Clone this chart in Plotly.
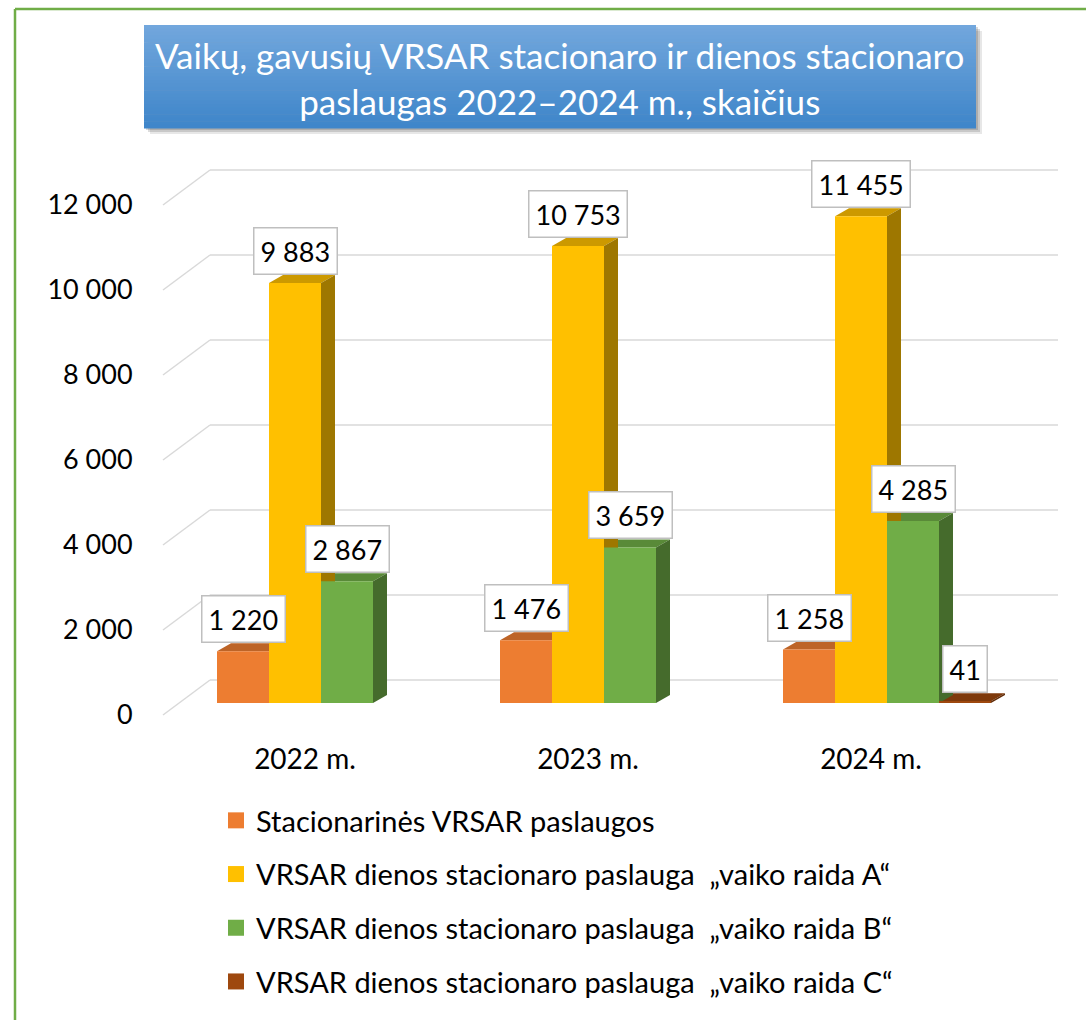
import plotly.graph_objects as go

# ---------------- data ----------------
categories = ["2022 m.", "2023 m.", "2024 m."]
series_names = [
    "Stacionarinės VRSAR paslaugos",
    "VRSAR dienos stacionaro paslauga\u00a0 „vaiko raida A“",
    "VRSAR dienos stacionaro paslauga\u00a0 „vaiko raida B“",
    "VRSAR dienos stacionaro paslauga\u00a0 „vaiko raida C“",
]
stacionarines = [1220, 1476, 1258]
raida_a = [9883, 10753, 11455]
raida_b = [2867, 3659, 4285]
raida_c = [None, None, 41]
y_tick_values = [0, 2000, 4000, 6000, 8000, 10000, 12000]
y_tick_labels = ["0", "2 000", "4 000", "6 000", "8 000", "10 000", "12 000"]
title_text = "Vaikų, gavusių VRSAR stacionaro ir dienos stacionaro<br>paslaugas 2022–2024 m., skaičius"

series_values = [stacionarines, raida_a, raida_b, raida_c]
front_colors = ["#ED7D31", "#FFC000", "#70AD47", "#9E480E"]

# ---------------- geometry / style ----------------
W, H = 1086, 1020
ML, MR, MT, MB = 163, 28, 150, 290
PW, PH = W - ML - MR, H - MT - MB
CAT_PX = 283.0
BAR_W = 52.0 / CAT_PX
K = 85.0 / 2000.0          # px per unit
ZERO_PX = 703.0
X_RANGE = [-(321 - ML) / CAT_PX, 2 + (ML + PW - 887) / CAT_PX]
Y_RANGE = [-(MT + PH - ZERO_PX) / K, (ZERO_PX - MT) / K]
DX = 14.0 / CAT_PX
DY = 8.0 / K
LABEL_OFF = 12.0 / K
BACK_OFF = 35.0 / K
FONT = "Lato, Carlito, Calibri, sans-serif"


def shade(hexcol, f):
    h = hexcol.lstrip("#")
    r, g, b = (int(h[i:i + 2], 16) for i in (0, 2, 4))
    return "rgb(%d,%d,%d)" % (r * f, g * f, b * f)


def xp(px):
    return (px - ML) / PW


def yp(py):
    return (MT + PH - py) / PH


def fmt(v):
    return f"{v:,}".replace(",", " ")


fig = go.Figure()

# ---- 3D faces (top faces first, then sides) on the base axes ----
tops, sides = [], []
for k, vals in enumerate(series_values):
    tx, ty, sx, sy = [], [], [], []
    for i, v in enumerate(vals):
        if v is None:
            continue
        xl = i + (k - 2) * BAR_W
        xr = xl + BAR_W
        tx += [xl, xl + DX, xr + DX, xr, xl, None]
        ty += [v, v + DY, v + DY, v, v, None]
        sx += [xr, xr + DX, xr + DX, xr, xr, None]
        sy += [0, DY, v + DY, v, 0, None]
    tops.append(go.Scatter(x=tx, y=ty, mode="lines", fill="toself",
                           fillcolor=shade(front_colors[k], 0.8),
                           line=dict(width=0), hoverinfo="skip", showlegend=False))
    sides.append(go.Scatter(x=sx, y=sy, mode="lines", fill="toself",
                            fillcolor=shade(front_colors[k], 0.62),
                            line=dict(width=0), hoverinfo="skip", showlegend=False))
for t in tops:
    fig.add_trace(t)
for s in sides:
    fig.add_trace(s)

# ---- front faces: real bars on overlaid axes ----
for k, vals in enumerate(series_values):
    fig.add_trace(go.Bar(
        x=list(range(len(categories))), y=vals, width=BAR_W,
        offset=(k - 2) * BAR_W, marker=dict(color=front_colors[k], line=dict(width=0)),
        name=series_names[k], showlegend=False, xaxis="x2", yaxis="y2",
    ))

# ---- legend entries ----
for k, name in enumerate(series_names):
    fig.add_trace(go.Scatter(
        x=[None], y=[None], mode="markers", name=name, legendgroup=f"g{k}",
        marker=dict(symbol="square", size=18, color=front_colors[k]),
    ))

# ---- data labels ----
annotations = []
for k, vals in enumerate(series_values):
    for i, v in enumerate(vals):
        if v is None:
            continue
        xc = i + (k - 2) * BAR_W + BAR_W / 2
        annotations.append(dict(
            x=xc, y=v + DY, xref="x2", yref="y2", text=fmt(v), showarrow=False,
            xanchor="center", yanchor="bottom", bgcolor="white",
            bordercolor="#BFBFBF", borderwidth=1.5, borderpad=6,
            font=dict(family=FONT, size=27, color="black"),
        ))

# ---- title ----
annotations.append(dict(
    x=xp(559), y=yp(78), xref="paper", yref="paper", text=title_text,
    showarrow=False, xanchor="center", yanchor="middle",
    font=dict(family=FONT, size=35, color="white"),
))

shapes = []
# outer green frame
shapes.append(dict(type="line", xref="paper", yref="paper", x0=xp(15), x1=xp(15),
                   y0=yp(9), y1=yp(H + 20), line=dict(color="#70AD47", width=2.5)))
shapes.append(dict(type="line", xref="paper", yref="paper", x0=xp(15), x1=xp(W + 20),
                   y0=yp(9), y1=yp(9), line=dict(color="#70AD47", width=2.5)))
# title box shadow
for off, op in [(6, 0.12), (4, 0.18), (2, 0.2)]:
    shapes.append(dict(type="rect", xref="paper", yref="paper", layer="above",
                       x0=xp(144 + off), x1=xp(976 + off), y0=yp(25 + off), y1=yp(128 + off),
                       fillcolor="rgba(60,60,60,%.2f)" % op, line=dict(width=0)))
# title box gradient
n_strips = 30
top_c, bot_c = (0x72, 0xA7, 0xDD), (0x3F, 0x86, 0xCA)
for s in range(n_strips):
    f = s / (n_strips - 1)
    c = tuple(int(top_c[j] + (bot_c[j] - top_c[j]) * f) for j in range(3))
    y0 = 25 + (128 - 25) * s / n_strips
    y1 = 25 + (128 - 25) * (s + 1) / n_strips
    shapes.append(dict(type="rect", xref="paper", yref="paper", layer="above",
                       x0=xp(144), x1=xp(976), y0=yp(y0), y1=yp(y1 + 0.6),
                       fillcolor="rgb(%d,%d,%d)" % c, line=dict(width=0)))
# 3D gridlines
for t in y_tick_values:
    shapes.append(dict(type="line", xref="paper", yref="y", layer="below",
                       x0=0, x1=xp(210), y0=t - LABEL_OFF, y1=t - LABEL_OFF + BACK_OFF,
                       line=dict(color="#D9D9D9", width=1.5)))
    shapes.append(dict(type="line", xref="paper", yref="y", layer="below",
                       x0=xp(210), x1=1, y0=t - LABEL_OFF + BACK_OFF, y1=t - LABEL_OFF + BACK_OFF,
                       line=dict(color="#D9D9D9", width=1.5)))

fig.update_layout(
    width=W, height=H, autosize=False,
    margin=dict(l=ML, r=MR, t=MT, b=MB, pad=0, autoexpand=False),
    paper_bgcolor="white", plot_bgcolor="rgba(0,0,0,0)",
    barmode="overlay",
    font=dict(family=FONT, size=27, color="black"),
    xaxis=dict(range=X_RANGE, tickmode="array",
               tickvals=[i - 16 / CAT_PX for i in range(len(categories))],
               ticktext=categories, showgrid=False, zeroline=False, showline=False,
               ticks="outside", ticklen=4, tickcolor="rgba(0,0,0,0)", automargin=False,
               tickfont=dict(family=FONT, size=28, color="black")),
    yaxis=dict(range=Y_RANGE, tickmode="array",
               tickvals=[t - LABEL_OFF for t in y_tick_values], ticktext=y_tick_labels,
               showgrid=False, zeroline=False, showline=False, automargin=False,
               ticks="outside", ticklen=24, tickcolor="rgba(0,0,0,0)",
               tickfont=dict(family=FONT, size=27, color="black")),
    xaxis2=dict(range=X_RANGE, overlaying="x", visible=False),
    yaxis2=dict(range=Y_RANGE, overlaying="y", visible=False),
    legend=dict(x=xp(216), y=yp(795), xanchor="left", yanchor="top",
                orientation="v", bgcolor="rgba(0,0,0,0)", tracegroupgap=13,
                itemsizing="trace",
                font=dict(family=FONT, size=29, color="black")),
    annotations=annotations,
    shapes=shapes,
    showlegend=True,
)

fig.write_html("out.html", config={"displayModeBar": False},
               post_script="document.body.style.margin='0';document.body.style.overflow='hidden';")
